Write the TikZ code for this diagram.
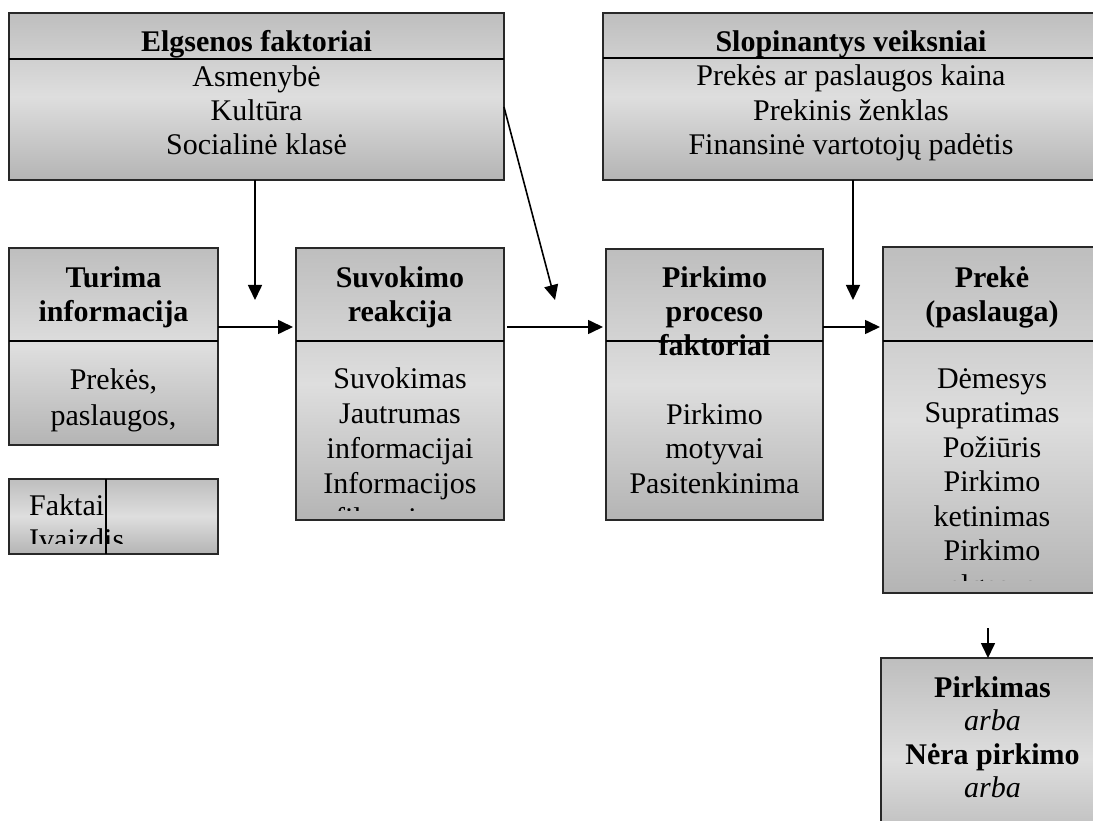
\documentclass[tikz,border=0pt]{standalone}
\usepackage{fontspec}
\setmainfont{Liberation Serif}
\usetikzlibrary{arrows.meta}
\definecolor{boxtop}{RGB}{190,190,190}
\definecolor{boxmid}{RGB}{222,222,222}
\definecolor{boxbot}{RGB}{180,180,180}
\definecolor{boxline}{RGB}{40,40,40}
\begin{document}
\begin{tikzpicture}[x=1pt,y=-1pt,
 box/.style={rectangle, draw=boxline, line width=1.7pt, top color=boxtop, bottom color=boxbot, middle color=boxmid, inner sep=0pt, outer sep=0pt},
 divider/.style={line width=2.6pt, black},
 txt/.style={font=\fontsize{30}{34.5}\selectfont, align=center, anchor=base, inner sep=0pt},
 ttl/.style={font=\fontsize{30}{34}\selectfont\bfseries, align=center, anchor=base, inner sep=0pt},
 arr/.style={line width=1.6pt, -{Triangle[length=15pt,width=14pt]}}
]
\clip (0,0) rectangle (1093,821);
\fill[white] (0,0) rectangle (1093,821);

% boxes
\node[box, minimum width=495pt, minimum height=167pt] (elg) at (256.5,96.5) {};
\node[box, minimum width=497pt, minimum height=167pt] (slo) at (851.5,96.5) {};
\node[box, minimum width=209pt, minimum height=197pt] (tur) at (113.5,346.5) {};
\node[box, minimum width=209pt, minimum height=75pt] (fak) at (113.5,516.5) {};
\node[box, minimum width=208pt, minimum height=272pt] (suv) at (400,384) {};
\node[box, minimum width=217pt, minimum height=271pt] (pir) at (714.5,384.5) {};
\node[box, minimum width=217pt, minimum height=346pt] (pre) at (991.5,420) {};
\node[box, minimum width=223pt, minimum height=202pt] (prk) at (992.5,759) {};

% texts (anchor base = baseline of the last line)
\node[ttl] (elgT) at (256.5,52) {Elgsenos faktoriai};
\node[txt, font=\fontsize{30}{34}\selectfont] (elgB) at (256.5,155) {Asmenybė\\Kultūra\\Socialinė klasė};

\node[ttl] (sloT) at (851,52) {Slopinantys veiksniai};
\node[txt] (sloB) at (851,155) {Prekės ar paslaugos kaina\\Prekinis ženklas\\Finansinė vartotojų padėtis};

\node[ttl] (turT) at (113.5,321) {Turima\\informacija};
\node[txt, font=\fontsize{30}{36}\selectfont] (turB) at (113.5,425) {Prekės,\\paslaugos,};

\begin{scope}
\clip (9,479) rectangle (218,543);
\node[txt, font=\fontsize{30}{34}\selectfont, align=left, anchor=base west] (fakB) at (29,549) {Faktai\\Įvaizdis};
\end{scope}

\node[ttl] (suvT) at (400,321) {Suvokimo\\reakcija};
\begin{scope}
\clip (296,248) rectangle (504,510);
\node[txt, font=\fontsize{30}{35}\selectfont] (suvB) at (400,528.5) {Suvokimas\\Jautrumas\\informacijai\\Informacijos\\filtravimas};
\end{scope}

\node[ttl] (pirT) at (714.5,355) {Pirkimo\\proceso\\faktoriai};
\node[txt] (pirB) at (714.5,493) {Pirkimo\\motyvai\\Pasitenkinima};

\node[ttl] (preT) at (992,321) {Prekė\\(paslauga)};
\begin{scope}
\clip (883,247) rectangle (1093,580);
\node[txt] (preB) at (992,595) {Dėmesys\\Supratimas\\Požiūris\\Pirkimo\\ketinimas\\Pirkimo\\elgesys};
\end{scope}

\node[txt, font=\fontsize{30}{33.5}\selectfont] (prkB) at (992.5,797.5) {\textbf{Pirkimas}\\\textit{arba}\\\textbf{Nėra pirkimo}\\\textit{arba}};

% dividers
\coordinate (d1) at (0,59);
\coordinate (d2) at (0,58);
\coordinate (d3) at (0,341);
\coordinate (fv) at (106,0);
\draw[divider] (elg.west |- d1) -- (elg.east |- d1);
\draw[divider] (slo.west |- d2) -- (slo.east |- d2);
\draw[divider] (tur.west |- d3) -- (tur.east |- d3);
\draw[divider] (suv.west |- d3) -- (suv.east |- d3);
\draw[divider] (pir.west |- d3) -- (pir.east |- d3);
\draw[divider] (pre.west |- d3) -- (pre.east |- d3);
\draw[line width=1.7pt, black] (fak.north -| fv) -- (fak.south -| fv);

% connectors
\coordinate (a1) at (255,300);
\coordinate (a2) at (853,300);
\coordinate (a3s) at (0,107);
\coordinate (a3) at (555,300);
\coordinate (h) at (0,327);
\coordinate (a4) at (988,628);
\draw[arr] (elg.south -| a1) -- (a1);
\draw[arr] (slo.south -| a2) -- (a2);
\draw[arr] (elg.east |- a3s) -- (a3);
\draw[arr, shorten >=3pt] (tur.east |- h) -- (suv.west |- h);
\draw[arr, shorten <=3pt, shorten >=3pt] (suv.east |- h) -- (pir.west |- h);
\draw[arr, shorten >=3pt] (pir.east |- h) -- (pre.west |- h);
\draw[arr] (a4) -- (prk.north -| a4);
\end{tikzpicture}
\end{document}
